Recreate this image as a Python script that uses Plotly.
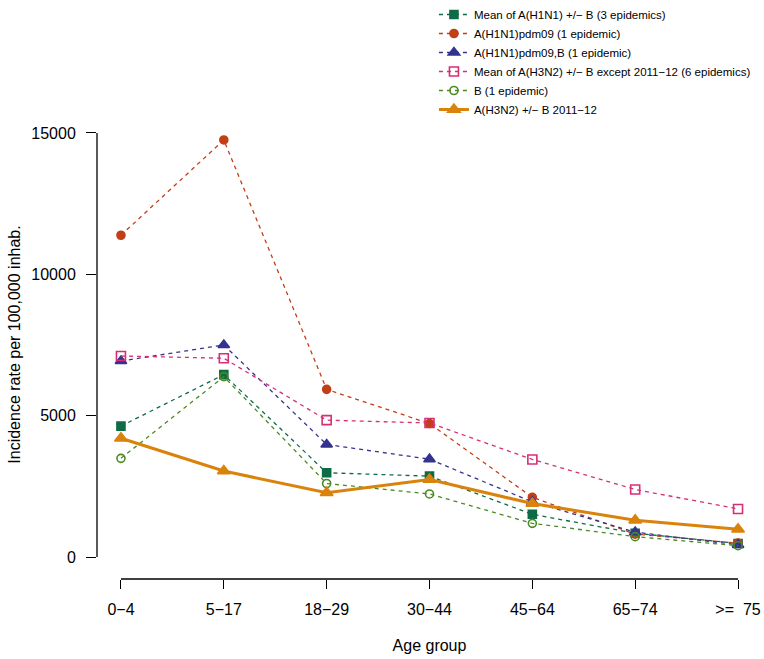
import plotly.graph_objects as go

age_groups = ["0\u22124", "5\u221217", "18\u221229", "30\u221244", "45\u221264", "65\u221274", ">=  75"]
y_ticks = [0, 5000, 10000, 15000]

names = [
    "Mean of A(H1N1) +/\u2212 B (3 epidemics)",
    "A(H1N1)pdm09 (1 epidemic)",
    "A(H1N1)pdm09,B (1 epidemic)",
    "Mean of A(H3N2) +/\u2212 B except 2011\u221212 (6 epidemics)",
    "B (1 epidemic)",
    "A(H3N2) +/\u2212 B 2011\u221212",
]
h1n1_mean = [4630, 6450, 2980, 2860, 1510, 840, 480]
pdm09 = [11380, 14750, 5930, 4720, 2110, 810, 490]
pdm09_b = [6930, 7500, 3980, 3460, 1950, 880, 430]
h3n2_mean = [7110, 7030, 4840, 4740, 3450, 2390, 1700]
b_only = [3490, 6380, 2600, 2230, 1190, 720, 400]
h3n2_1112 = [4200, 3040, 2270, 2740, 1890, 1300, 980]

series = [h1n1_mean, pdm09, pdm09_b, h3n2_mean, b_only, h3n2_1112]
colors = ["#0E6B47", "#C23F16", "#34338F", "#D62F78", "#4A8A20", "#D9830C"]
symbols = ["square", "circle", "triangle-up", "square-open", "circle-open", "triangle-up"]
msizes = [8, 8, 10, 9, 8, 11]

x_idx = list(range(len(age_groups)))

fig = go.Figure()
for i, (nm, vals) in enumerate(zip(names, series)):
    last = i == len(series) - 1
    fig.add_trace(go.Scatter(
        x=x_idx, y=vals, name=nm, mode="lines+markers",
        line=dict(color=colors[i], width=3 if last else 1.3,
                  dash="solid" if last else "4px,4px"),
        marker=dict(symbol=symbols[i], size=msizes[i], color=colors[i],
                    line=dict(color=colors[i], width=1.6)),
    ))

font = "Liberation Sans, Arial, Helvetica, sans-serif"

fig.update_layout(
    width=764, height=659,
    margin=dict(l=97, r=2, t=110, b=80, autoexpand=False),
    paper_bgcolor="white", plot_bgcolor="white",
    font=dict(family=font, size=16, color="black"),
    showlegend=True,
    legend=dict(xref="container", yref="container", x=0.568, y=1.0,
                xanchor="left", yanchor="top",
                font=dict(size=11.5, family=font), bgcolor="rgba(0,0,0,0)",
                itemwidth=30, tracegroupgap=0),
    xaxis=dict(
        range=[-0.233, 6.233], tickmode="array", tickvals=x_idx, ticktext=age_groups,
        showgrid=False, zeroline=False, showline=False, automargin=False,
        ticks="outside", ticklen=9, tickwidth=1.3, tickcolor="black",
        ticklabelstandoff=7,
        tickfont=dict(size=16), title=dict(text="Age group", font=dict(size=16), standoff=22),
    ),
    yaxis=dict(
        range=[-778, 15810], tickmode="array", tickvals=y_ticks,
        ticktext=[str(v) for v in y_ticks],
        showgrid=False, zeroline=False, showline=False, automargin=False,
        ticks="outside", ticklen=10, tickwidth=1.3, tickcolor="black",
        ticklabelstandoff=7,
        tickfont=dict(size=16),
        title=dict(text="Incidence rate per 100,000 inhab.", font=dict(size=16), standoff=6),
    ),
)

fig.add_shape(type="line", xref="x", yref="paper", x0=x_idx[0], x1=x_idx[-1], y0=0, y1=0,
              line=dict(color="black", width=1.3))
fig.add_shape(type="line", xref="paper", yref="y", x0=0, x1=0, y0=y_ticks[0], y1=y_ticks[-1],
              line=dict(color="black", width=1.3))

fig.write_html("out.html", config={"displayModeBar": False},
               post_script="document.body.style.margin='0px';document.body.style.overflow='hidden';")
